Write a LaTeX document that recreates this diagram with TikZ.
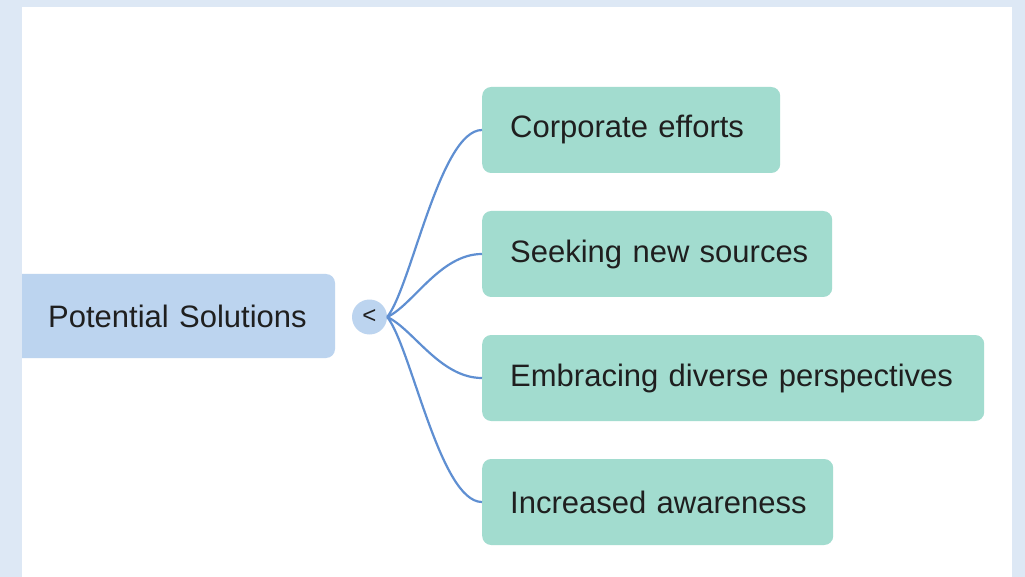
\documentclass[tikz,border=0pt]{standalone}
\usepackage{fontspec}
\setmainfont{Liberation Sans}
\definecolor{bgblue}{HTML}{DDE8F5}
\definecolor{rootfill}{HTML}{BCD4EF}
\definecolor{leaffill}{HTML}{A2DCCF}
\definecolor{linkblue}{HTML}{5F8FD2}
\definecolor{ink}{HTML}{1F1F1F}
\begin{document}
\begin{tikzpicture}[x=1pt,y=-1pt,
  labelfont/.style={font=\fontsize{31}{36}\selectfont, text=ink},
  rootnode/.style={labelfont, inner xsep=0pt, inner ysep=0pt, minimum height=84pt, align=left, anchor=west},
  leaf/.style={labelfont, fill=leaffill, rounded corners=9pt, inner xsep=0pt, inner ysep=0pt, minimum height=86pt, align=left, anchor=west},
  togglenode/.style={circle, fill=rootfill, minimum size=35pt, inner sep=0pt, font=\fontsize{24}{26}\selectfont, text=ink},
  conn/.style={draw=linkblue, line width=2.2pt}
]
\useasboundingbox (0,0) rectangle (1025,577);
\fill[bgblue] (0,0) rectangle (1025,577);
\fill[white] (22,7) rectangle (1012,577);
\begin{scope}
  \clip (22,0) rectangle (1025,577);
  \fill[rootfill, rounded corners=9pt] (10,274) rectangle (335,358);
\end{scope}
\node[rootnode, text width=313pt] (root) at (22,316) {\hspace*{26pt}Potential Solutions};
\node[togglenode] (tog) at (369.5,317) {<};
\node[leaf, text width=298pt] (c1) at (482,130) {\hspace*{28pt}Corporate efforts};
\node[leaf, text width=350pt] (c2) at (482,254) {\hspace*{28pt}Seeking new sources};
\node[leaf, text width=502pt] (c3) at (482,378) {\hspace*{28pt}Embracing diverse perspectives};
\node[leaf, text width=351pt] (c4) at (482,502) {\hspace*{28pt}Increased awareness};
\draw[conn] (tog.east) .. controls +(24,-30) and +(-42,0) .. (c1.west);
\draw[conn] (tog.east) .. controls +(26,-12) and +(-42,0) .. (c2.west);
\draw[conn] (tog.east) .. controls +(26,12) and +(-42,0) .. (c3.west);
\draw[conn] (tog.east) .. controls +(24,30) and +(-42,0) .. (c4.west);
\end{tikzpicture}
\end{document}
